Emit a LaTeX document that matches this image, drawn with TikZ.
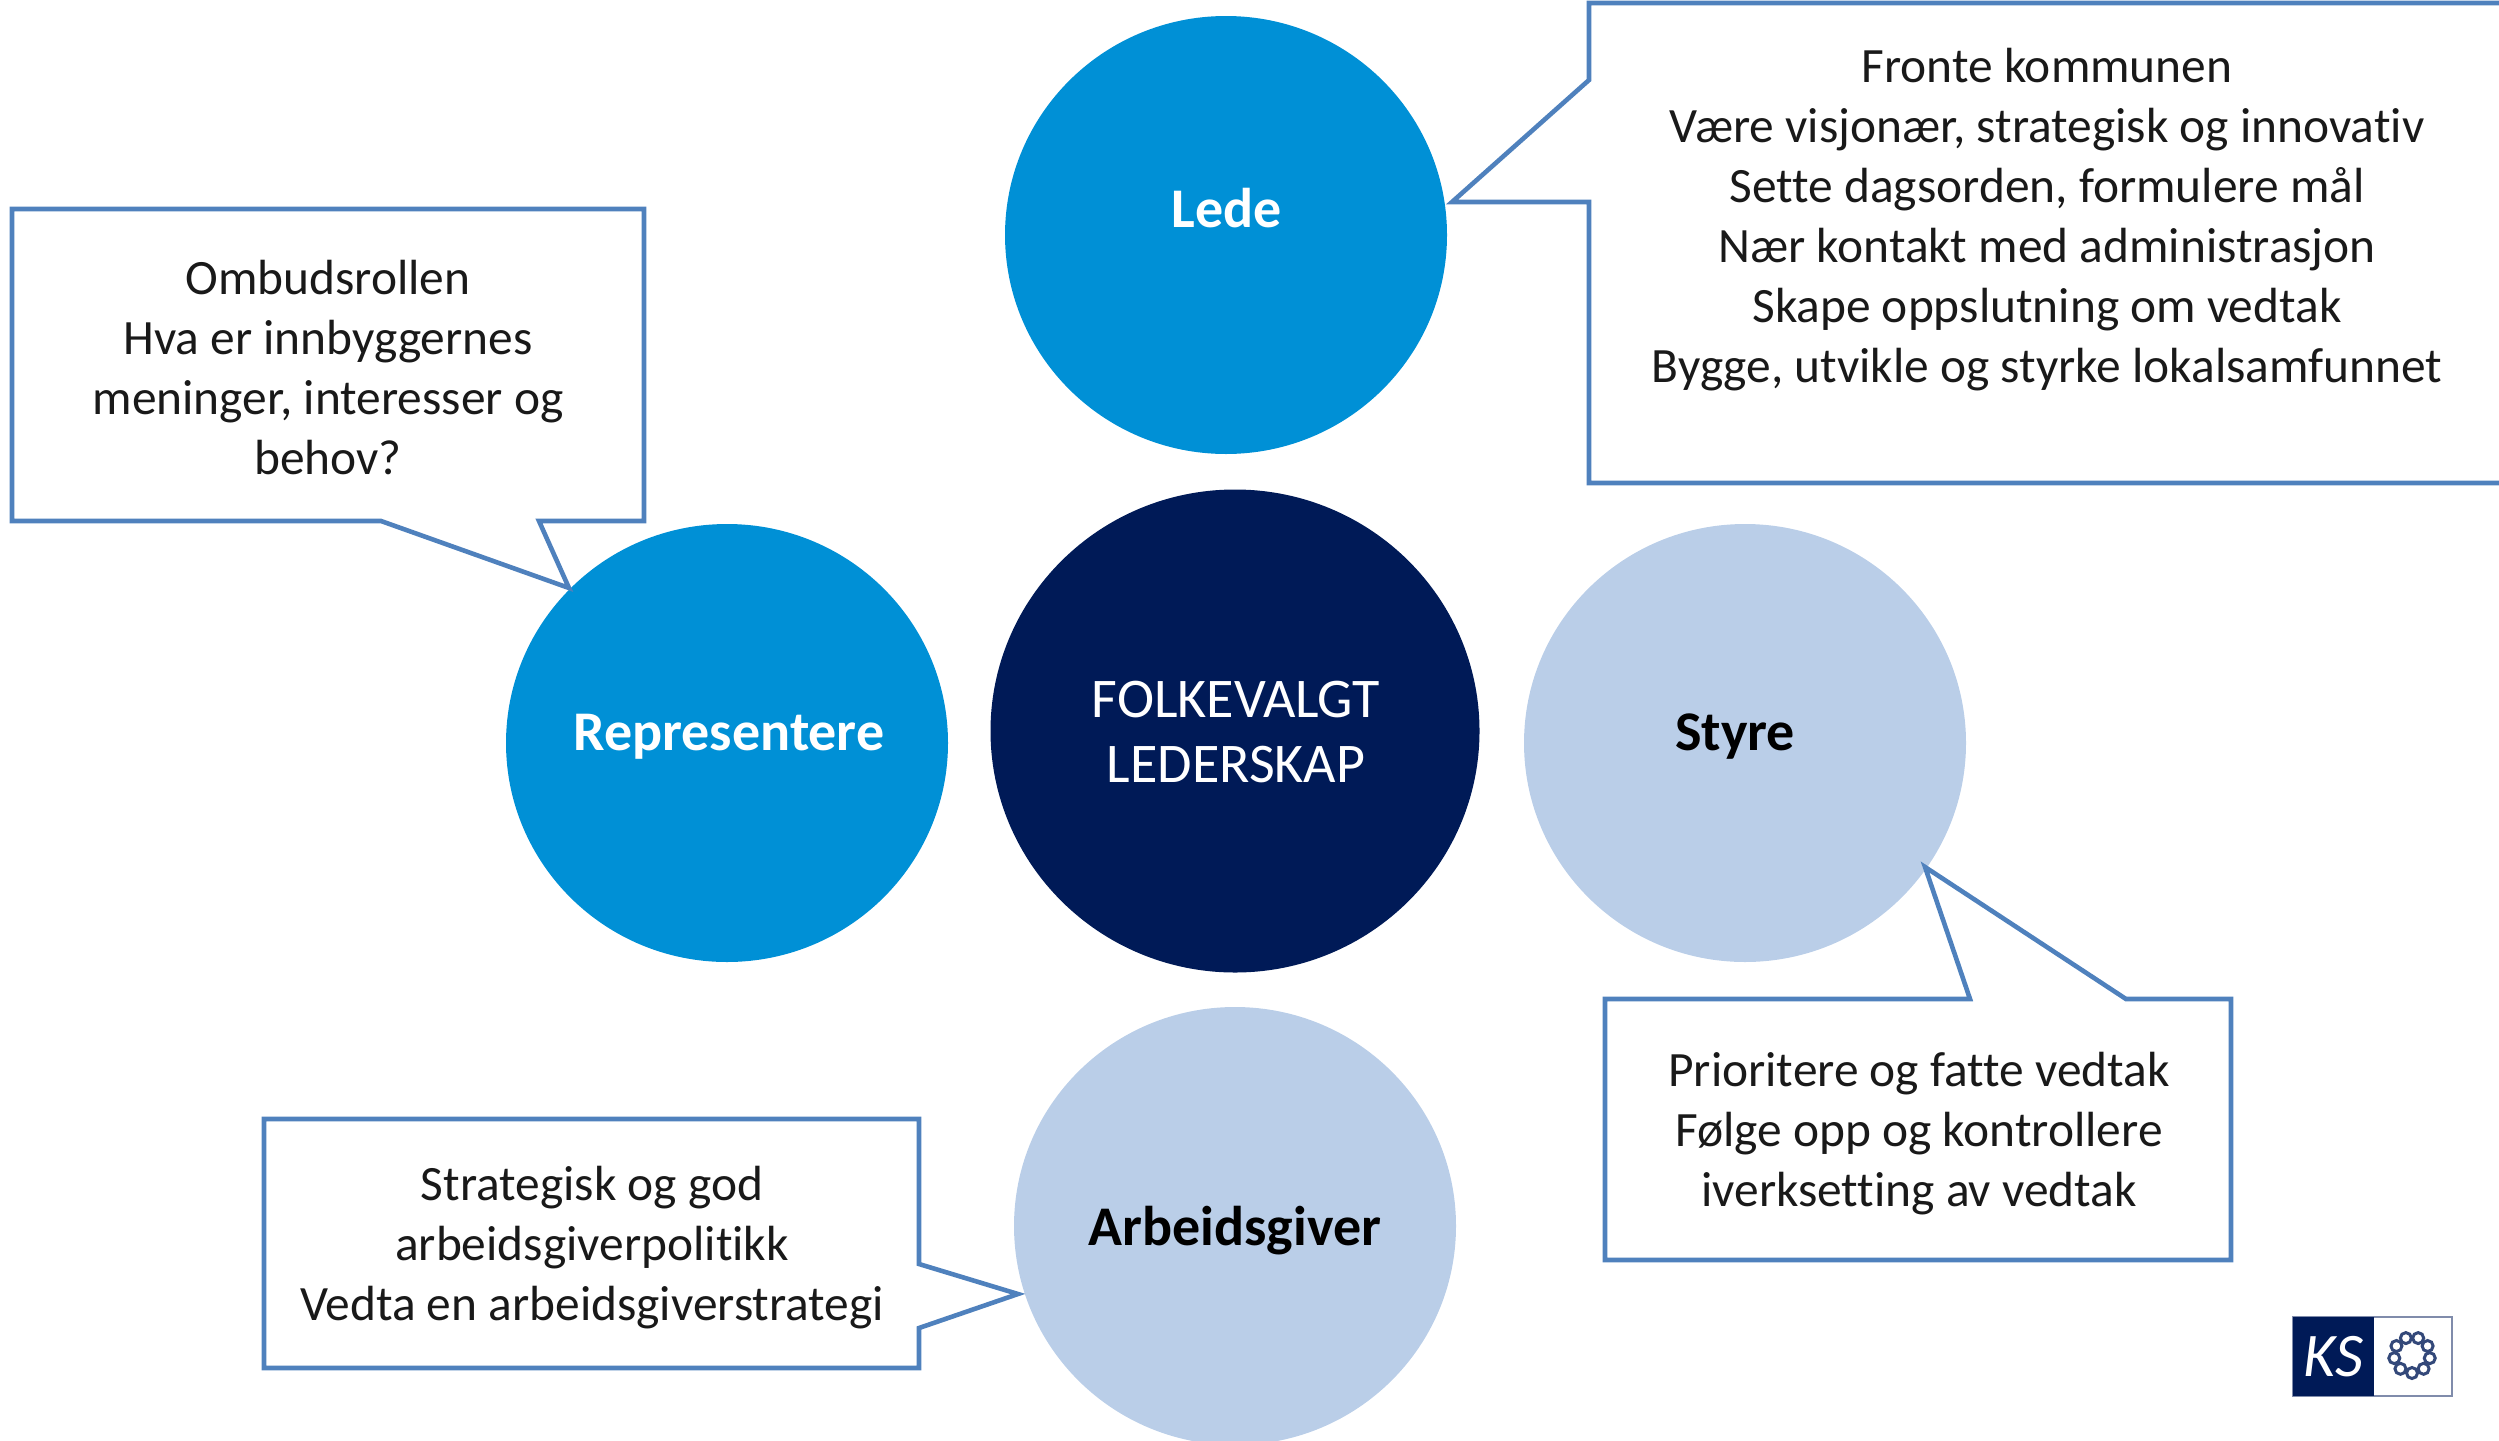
\documentclass[tikz,border=0pt]{standalone}
\usetikzlibrary{shapes.geometric}
\usepackage{fontspec}
\setmainfont{Carlito}[Ligatures=NoCommon]
\definecolor{ksblue}{HTML}{0090D6}
\definecolor{ksnavy}{HTML}{001A57}
\definecolor{kslight}{HTML}{BACEE8}
\definecolor{ksline}{HTML}{4F81BD}
\tikzset{
  bigdisc/.style={ellipse,draw=none,inner sep=0pt,minimum width=442pt,minimum height=438pt},
  callout/.style={draw=ksline,line width=4.6pt,fill=white,line join=miter},
  bodytext/.style={align=center,inner sep=0pt,text=black!90,font=\fontsize{49.4}{60}\selectfont},
  disctext/.style={align=center,inner sep=0pt,font=\fontsize{56}{65}\selectfont\bfseries},
  centretext/.style={align=center,inner sep=0pt,text=white,font=\fontsize{56}{65}\selectfont},
  bead/.style={circle,draw=ksnavy!80,line width=3pt,inner sep=0pt,minimum size=11pt}
}
\begin{document}
\begin{tikzpicture}[x=1pt,y=-1pt]
\useasboundingbox (0,0) rectangle (2499,1440);
% circles
\node[bigdisc,fill=ksblue] (lede) at (1226,235) {};
\node[bigdisc,fill=ksblue] (repr) at (727,743) {};
\node[bigdisc,fill=kslight] (styre) at (1745,743) {};
\node[bigdisc,fill=kslight] (arb) at (1235,1226) {};
\node[ellipse,draw=none,inner sep=0pt,minimum width=489pt,minimum height=483pt,fill=ksnavy] (centre) at (1235,731) {};
% callouts
\draw[callout] (1589,3) -- (2530,3) -- (2530,483) -- (1589,483) -- (1589,202) -- (1452,202) -- (1589,80) -- cycle;
\draw[callout] (12,209) -- (644,209) -- (644,521) -- (539,521) -- (569,588) -- (381,521) -- (12,521) -- cycle;
\draw[callout] (1605,999) -- (1970,999) -- (1925,867) -- (2126,999) -- (2231,999) -- (2231,1260) -- (1605,1260) -- cycle;
\draw[callout] (264,1119) -- (919,1119) -- (919,1264) -- (1018,1294) -- (919,1328) -- (919,1368) -- (264,1368) -- cycle;
% circle labels
\node[disctext,text=white] (tlede) at (1227,208) {Lede};
\node[disctext,text=white] (trepr) at (729,737) {Representere};
\node[disctext,text=black] (tstyre) at (1735,737) {Styre};
\node[disctext,text=black] (tarb) at (1235,1231) {Arbeidsgiver};
\node[centretext] (tcentre) at (1236,732) {FOLKEVALGT\\LEDERSKAP};
% callout texts
\node[bodytext] (t1) at (2047,220) {Fronte kommunen\\Være visjonær, strategisk og innovativ\\Sette dagsorden, formulere mål\\Nær kontakt med administrasjon\\Skape oppslutning om vedtak\\Bygge, utvikle og styrke lokalsamfunnet};
\node[bodytext] (t2) at (328,368) {Ombudsrollen\\Hva er innbyggernes\\meninger, interesser og\\behov?};
\node[bodytext] (t3) at (1919,1134) {Prioritere og fatte vedtak\\Følge opp og kontrollere\\iverksetting av vedtak};
\node[bodytext] (t4) at (592,1248) {Strategisk og god\\arbeidsgiverpolitikk\\Vedta en arbeidsgiverstrategi};
% logo
\node[draw=ksnavy!50,line width=2pt,fill=white,minimum width=159pt,minimum height=79pt,inner sep=0pt] (logobox) at (2372.5,1356.5) {};
\node[fill=ksnavy,minimum width=81pt,minimum height=79pt,inner sep=0pt,text=white,font=\fontsize{62}{62}\selectfont\itshape] (logoks) at (2333.5,1356.5) {KS};
\foreach \a in {0,40,...,320}{
  \node[bead] at ({2412+18*cos(\a+90)},{1355+18*sin(\a+90)}) {};
}
\end{tikzpicture}
\end{document}
